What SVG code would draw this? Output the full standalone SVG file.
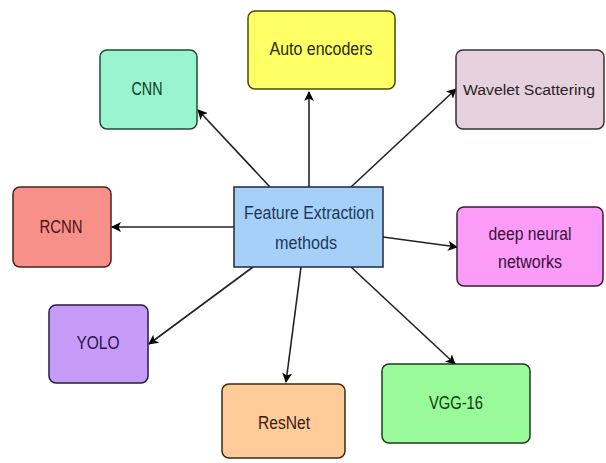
<svg xmlns="http://www.w3.org/2000/svg" width="606" height="463" viewBox="0 0 606 463">
<defs>
<marker id="ah" viewBox="0 0 10 10" refX="9" refY="5" markerWidth="10" markerHeight="10" markerUnits="userSpaceOnUse" orient="auto">
<path d="M0,0 L10,5 L0,10 L2.5,5 Z" fill="#000"/>
</marker>
<style>
text{font-family:"Liberation Sans",Arial,sans-serif;font-size:17.5px;text-anchor:middle}
.n rect{stroke-width:1.5}
.c line{stroke:#222;stroke-width:1.6;marker-end:url(#ah)}
</style>
</defs>
<rect width="606" height="463" fill="#fff"/>
<g class="c" id="connectors">
<line x1="270" y1="187" x2="198" y2="110"/>
<line x1="309" y1="187" x2="309" y2="92"/>
<line x1="351" y1="187" x2="456" y2="89"/>
<line x1="234" y1="227" x2="112" y2="227"/>
<line x1="383" y1="237" x2="457" y2="247"/>
<line x1="253" y1="267" x2="149" y2="344"/>
<line x1="301" y1="267" x2="286" y2="382"/>
<line x1="351" y1="267" x2="455" y2="364"/>
</g>
<g class="n" id="auto">
<rect x="248" y="11" width="147" height="78" rx="7" fill="#ffff66" stroke="#4a4a10"/>
<text x="321" y="55" fill="#2a2a00" textLength="103" lengthAdjust="spacingAndGlyphs">Auto encoders</text>
</g>
<g class="n" id="cnn">
<rect x="100" y="50" width="97" height="79" rx="7" fill="#99f5cf" stroke="#1f4a3a"/>
<text x="147" y="95" fill="#0f3a25" textLength="31" lengthAdjust="spacingAndGlyphs">CNN</text>
</g>
<g class="n" id="wavelet">
<rect x="456" y="50" width="148" height="79" rx="7" fill="#e6d2de" stroke="#3a3035"/>
<text x="529" y="95" fill="#2a2228" style="font-size:15.5px" textLength="132" lengthAdjust="spacingAndGlyphs">Wavelet Scattering</text>
</g>
<g class="n" id="feature">
<rect x="234" y="187" width="149" height="80" fill="#a6d0f8" stroke="#1a2a40"/>
<text x="309" y="219" fill="#1a3a5a" textLength="130" lengthAdjust="spacingAndGlyphs">Feature Extraction</text>
<text x="306" y="249" fill="#1a3a5a" textLength="62" lengthAdjust="spacingAndGlyphs">methods</text>
</g>
<g class="n" id="rcnn">
<rect x="13" y="187" width="98" height="80" rx="7" fill="#f8908a" stroke="#4a2020"/>
<text x="61" y="233" fill="#4a1515" textLength="43" lengthAdjust="spacingAndGlyphs">RCNN</text>
</g>
<g class="n" id="dnn">
<rect x="457" y="207" width="146" height="79" rx="7" fill="#fa9cf8" stroke="#3a1a3a"/>
<text x="530" y="240" fill="#3a0f3a" textLength="83" lengthAdjust="spacingAndGlyphs">deep neural</text>
<text x="530" y="268" fill="#3a0f3a" textLength="64" lengthAdjust="spacingAndGlyphs">networks</text>
</g>
<g class="n" id="yolo">
<rect x="49" y="305" width="99" height="78" rx="7" fill="#c79cf8" stroke="#2a1a40"/>
<text x="98" y="349" fill="#2a0f4a" textLength="43" lengthAdjust="spacingAndGlyphs">YOLO</text>
</g>
<g class="n" id="resnet">
<rect x="222" y="384" width="123" height="74" rx="7" fill="#ffcc99" stroke="#3a2a1a"/>
<text x="284" y="429" fill="#3a2010" textLength="52" lengthAdjust="spacingAndGlyphs">ResNet</text>
</g>
<g class="n" id="vgg">
<rect x="382" y="364" width="148" height="79" rx="7" fill="#99fa99" stroke="#1f3a1f"/>
<text x="456" y="409" fill="#0f3a0f" textLength="54" lengthAdjust="spacingAndGlyphs">VGG-16</text>
</g>
</svg>
